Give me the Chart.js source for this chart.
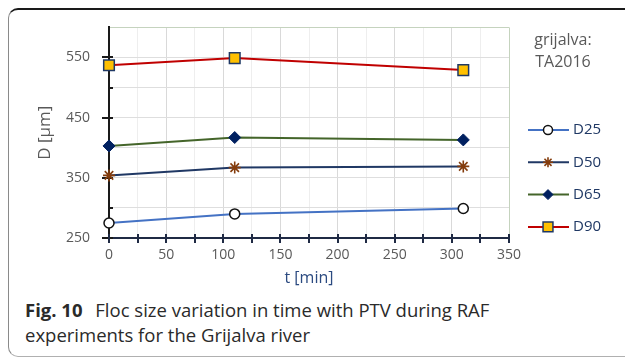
<!DOCTYPE html>
<html><head><meta charset="utf-8">
<script src="https://cdn.jsdelivr.net/npm/chart.js@4"></script>
<style>
body{margin:0;width:625px;height:358px;overflow:hidden;background:#fff;font-family:"Open Sans",sans-serif;}
#frame{position:absolute;left:8px;top:8px;width:700px;height:346px;border-top:2px solid #1a1a1a;border-left:1.5px solid #8a8a8a;border-bottom:1px solid #b0b0b0;border-radius:10px 0 0 10px;}
#wrap{position:absolute;left:0;top:0;width:625px;height:290px;}
#cap{position:absolute;left:25px;top:297px;font-size:18.5px;line-height:25px;color:#2a2a2a;white-space:nowrap;}
#cap b{font-weight:700;margin-right:8px;}
</style></head>
<body>
<div id="frame"></div>
<div id="wrap"><canvas id="c" width="625" height="290"></canvas></div>
<div id="cap"><b>Fig. 10</b> Floc size variation in time with PTV during RAF<br>experiments for the Grijalva river</div>
<script>
const times = [0, 110, 310];
const d25 = [275, 290, 299];
const d50 = [354, 367, 369];
const d65 = [403, 417, 413];
const d90 = [537, 549, 529];
const seriesNames = ['D25', 'D50', 'D65', 'D90'];
const xTickLabels = [0, 50, 100, 150, 200, 250, 300, 350];
const yTickLabels = [250, 350, 450, 550];
const legendTitle = ['grijalva:', 'TA2016'];

const pts = arr => times.map((t, i) => ({x: t, y: arr[i]}));

const styles = [
  {borderColor:'#4472c4', pointStyle:'circle', pointRadius:5, pointBackgroundColor:'#ffffff', pointBorderColor:'#111111', pointBorderWidth:1.5, legendRadius:4.5},
  {borderColor:'#203864', pointStyle:'star', pointRadius:6, pointBackgroundColor:'#843c0c', pointBorderColor:'#843c0c', pointBorderWidth:1.6, legendRadius:5},
  {borderColor:'#44652a', pointStyle:'rectRot', pointRadius:6, pointBackgroundColor:'#002060', pointBorderColor:'#002060', pointBorderWidth:1, legendRadius:5},
  {borderColor:'#c00000', pointStyle:'rect', pointRadius:7.5, pointBackgroundColor:'#ffc000', pointBorderColor:'#1f3864', pointBorderWidth:1.5, legendRadius:7}
];
const seriesData = [d25, d50, d65, d90];

const datasets = seriesNames.map((n, i) => Object.assign({
  label: n, data: pts(seriesData[i]), showLine: true, borderWidth: 2, tension: 0, clip: false,
  pointHoverRadius: styles[i].pointRadius
}, styles[i]));

const tickPlugin = {
  id: 'ticks',
  beforeDatasetsDraw(chart) {
    const {ctx, scales:{x, y}} = chart;
    ctx.save();
    ctx.lineWidth = 2;
    ctx.strokeStyle = '#1a1a1a';
    const ax = x.getPixelForValue(0);
    for (let v = 250; v <= 550; v += 50) {
      const py = Math.round(y.getPixelForValue(v));
      ctx.beginPath();
      if (yTickLabels.includes(v)) { ctx.moveTo(ax - 7, py); ctx.lineTo(ax + 4, py); }
      else { ctx.moveTo(ax, py); ctx.lineTo(ax + 4, py); }
      ctx.stroke();
    }
    ctx.strokeStyle = '#1f2a44';
    const ay = y.getPixelForValue(250);
    for (let v = 0; v <= 350; v += 25) {
      const px = Math.round(x.getPixelForValue(v));
      ctx.beginPath(); ctx.moveTo(px, ay - 4); ctx.lineTo(px, ay + 5); ctx.stroke();
    }
    ctx.restore();
  }
};

const legendPlugin = {
  id: 'customLegend',
  afterDraw(chart) {
    const ctx = chart.ctx;
    ctx.save();
    ctx.font = '16px "Open Sans"';
    ctx.fillStyle = '#595959';
    ctx.textAlign = 'center';
    ctx.textBaseline = 'middle';
    ctx.fillText(legendTitle[0], 563, 40);
    ctx.fillText(legendTitle[1], 563, 62);
    chart.data.datasets.forEach((ds, i) => {
      const yy = 130 + i * 32.3;
      ctx.strokeStyle = ds.borderColor; ctx.lineWidth = 2;
      ctx.beginPath(); ctx.moveTo(528, yy); ctx.lineTo(569, yy); ctx.stroke();
      ctx.fillStyle = ds.pointBackgroundColor; ctx.strokeStyle = ds.pointBorderColor; ctx.lineWidth = ds.pointBorderWidth;
      Chart.helpers.drawPoint(ctx, {pointStyle: ds.pointStyle, radius: ds.legendRadius, rotation: 0, borderWidth: ds.pointBorderWidth}, 548, yy);
      ctx.fillStyle = '#1f3864';
      ctx.font = '15px "Open Sans"';
      ctx.textAlign = 'left';
      ctx.fillText(ds.label, 573, yy);
    });
    ctx.restore();
  }
};

new Chart(document.getElementById('c'), {
  type: 'scatter',
  data: { datasets },
  plugins: [tickPlugin, legendPlugin],
  options: {
    responsive: false, animation: false,
    layout: { padding: { left: 0, top: 26, right: 116, bottom: 0 } },
    plugins: { legend: { display: false }, tooltip: { enabled: false } },
    scales: {
      x: {
        type: 'linear', min: 0, max: 350,
        afterFit: s => { s.height = 52; },
        ticks: { stepSize: 25, padding: 9, color: '#595959', font: { family: 'Open Sans', size: 14 },
          callback: v => xTickLabels.includes(v) ? String(v) : '' , maxRotation: 0, autoSkip: false },
        grid: { drawTicks: false, lineWidth: 1,
          color: c => c.tick.value === 350 ? '#c5d3be' : (c.tick.value % 50 === 0 ? '#d9d9d9' : '#eeeeee') },
        border: { color: '#1f2a44', width: 2 },
        title: { display: true, text: 't [min]', color: '#2b4a80', font: { family: 'Open Sans', size: 16 }, padding: { bottom: 2, top: 0 } }
      },
      y: {
        min: 250, max: 600,
        afterFit: s => { s.width = 109; },
        ticks: { stepSize: 50, padding: 19, color: '#595959', font: { family: 'Open Sans', size: 14 },
          callback: v => yTickLabels.includes(v) ? String(v) : '', autoSkip: false },
        grid: { drawTicks: false, lineWidth: 1,
          color: c => c.tick.value === 600 ? '#c5d3be' : '#dedede' },
        border: { color: '#1a1a1a', width: 2 },
        title: { display: true, text: 'D [µm]', color: '#595959', font: { family: 'Open Sans', size: 17 }, padding: { top: 35, bottom: 0 } }
      }
    }
  }
});
</script>
</body></html>
